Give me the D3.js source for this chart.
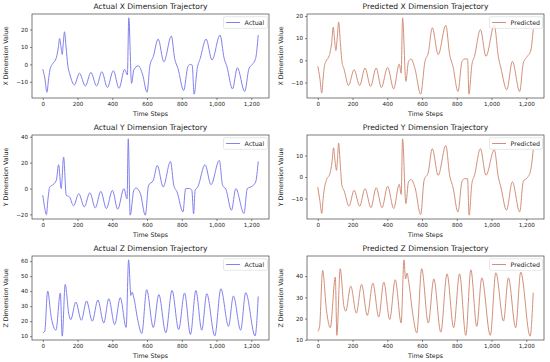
<!DOCTYPE html>
<html>
<head>
<meta charset="utf-8">
<script src="https://cdn.jsdelivr.net/npm/d3@7"></script>
<style>
  body { margin:0; background:#fff; }
  svg { display:block; font-family:"DejaVu Sans", sans-serif; }
  .tick text { fill:#222; }
</style>
</head>
<body>
<div id="chart"></div>
<script>
//--------------------------------- Dados  [passo, valor]
var xTicks = [0, 200, 400, 600, 800, 1000, 1200];

var actualX = [[0,-2.8],[12,-8],[24,-16],[34,-8],[43,-2.3],[59,0.6],[78,3.8],[90,10],[97,14.9],[105,10],[112,5.7],
  [118,12],[125,18.7],[134,10],[144,-0.4],[157,-6.1],[182,-11.8],[211,-5.1],[245,-12.4],[277,-4.6],[310,-12.4],
  [340,-4.2],[372,-13.3],[406,-3.6],[439,-13.7],[471,-2.9],[487,-6],[495,26.7],[511,-10.9],[524,-3.2],[549,-0.8],
  [575,-6],[600,-16],[617,-0.4],[636,4.4],[664,14.5],[697,1.5],[740,16.2],[759,3.4],[778,-2.3],[811,-15],
  [835,-1.3],[849,0],[860,-0.4],[871,-17.1],[889,-2.3],[906,3.4],[940,14.5],[974,2.5],[1020,16.8],[1044,3.4],
  [1060,-1.3],[1092,-14.1],[1120,-1.9],[1162,-15.6],[1187,-2.3],[1206,0],[1225,3.4],[1240,16.8]];

var actualY = [[0,-5.2],[10,-14],[21,-20.1],[30,-8],[40,1.2],[59,3],[78,6.3],[91,18.4],[106,-0.1],[120,24.3],
  [135,-5.2],[154,-6.5],[177,-13.4],[207,-4],[239,-14.2],[271,-3.2],[302,-15],[334,-2.2],[366,-15.5],[401,-1.4],
  [431,-16],[467,-0.1],[485,-8],[492,38.4],[503,-20.6],[524,-1.4],[537,0.4],[562,-4],[590,-20.6],[609,2.5],
  [636,6.3],[659,17.8],[693,1.2],[735,20.9],[754,2.5],[773,-2.7],[807,-18.1],[822,-0.1],[845,0],[858,-1.4],
  [868,-19.6],[877,-1.4],[892,1.2],[934,18.4],[968,3],[1016,21.7],[1035,2.5],[1054,-0.6],[1086,-16.8],
  [1111,-0.1],[1158,-19.3],[1177,-0.1],[1206,1.9],[1225,5],[1240,20.9]];

var actualZ = [[0,12.4],[11,13.1],[28,40.1],[49,22.4],[76,14],[101,38.8],[112,10],[129,44.5],[150,24.6],[161,21],
  [190,32.8],[222,20.6],[252,33.5],[285,20],[317,34.1],[351,18.8],[380,35],[414,17.7],[446,35.7],[480,15.8],
  [494,60.9],[507,37.2],[514,39.4],[524,35.7],[547,20.6],[570,11.8],[598,41],[636,15.8],[668,37.7],[708,12.2],
  [744,40.5],[782,14.4],[816,38.8],[850,11.1],[881,40.5],[915,14],[944,38.3],[990,10.2],[1025,41.6],[1069,16.6],
  [1097,36.8],[1139,14],[1168,39],[1222,10.2],[1240,36.5]];

var predX = [[0,-2.7],[12,-8],[23,-14.8],[31,-8],[38,-2.7],[47,-0.5],[66,2.1],[80,8],[89,15],[97,9],[104,4.4],
  [112,10],[120,17.3],[130,8],[139,-0.5],[152,-4.2],[177,-11.4],[209,-4.2],[241,-11.4],[272,-3.5],[304,-11.8],
  [336,-3.5],[366,-12.3],[402,-3.2],[437,-12.9],[469,-1.7],[480,-5.8],[488,19.2],[507,-9.5],[522,-0.5],
  [537,0.6],[560,-4],[592,-15.3],[617,-0.5],[636,3.3],[659,14.7],[693,2.6],[737,15.8],[759,2.6],[778,-2.7],
  [807,-14.1],[830,-0.5],[845,0.6],[862,0.6],[870,-15.3],[887,-2],[902,1.8],[936,13.9],[968,1.8],[1016,15.8],
  [1039,1.8],[1054,-3.5],[1088,-13.3],[1120,-0.5],[1162,-14.1],[1183,-1.2],[1206,1.8],[1225,4.1],[1240,14]];

var predY = [[0,-4.7],[12,-11],[23,-17],[31,-10],[38,-5.4],[51,-1.2],[70,1.6],[82,7],[91,13.6],[100,7],[108,3.1],
  [114,9],[120,15.8],[130,5],[139,-3.9],[152,-6.5],[180,-13.6],[209,-6.2],[241,-13.6],[272,-5.4],[306,-14.3],
  [336,-5],[370,-14.3],[402,-4.3],[437,-14.7],[469,-3.4],[480,-8.1],[488,17.8],[507,-12.4],[522,-2.3],
  [537,-1.2],[560,-5],[592,-17.5],[612,-1.5],[636,2.3],[659,13.2],[693,0.8],[737,14.7],[759,0.8],[778,-4.7],
  [807,-16.3],[830,-2],[845,-0.8],[862,-0.8],[871,-17.8],[887,-3],[902,0.8],[936,13.2],[968,0.8],[1016,12.7],
  [1039,0],[1054,-4.7],[1086,-15.5],[1120,-2.3],[1162,-16.3],[1183,-2],[1206,-0.3],[1225,3],[1240,12.7]];

var predZ = [[0,14],[10,16],[28,42.7],[50,24],[72,15.7],[101,39.5],[110,12.1],[129,43.5],[150,26],[161,23.5],
  [190,35.3],[222,22.6],[252,36.1],[285,21.5],[317,36.7],[351,20.7],[380,37.2],[414,19.6],[446,38.3],[480,17.9],
  [496,47.7],[505,38.7],[514,41.4],[524,37],[547,22],[570,13.2],[598,43.5],[636,17.9],[668,38.7],[708,13.6],
  [744,41.1],[782,15.7],[816,41.1],[852,12.1],[881,43],[915,16.3],[944,39.2],[993,12.1],[1025,41.6],[1069,18.8],
  [1097,39.2],[1139,15.7],[1168,41.9],[1222,11.7],[1240,32.2]];

var yTicksActualX = [-10, 0, 10, 20],
    yTicksPredX   = [-10, 0, 10, 20],
    yTicksActualY = [-20, 0, 20, 40],
    yTicksPredY   = [-10, 0, 10],
    yTicksActualZ = [10, 20, 30, 40, 50, 60],
    yTicksPredZ   = [10, 20, 30, 40];

//--------------------------------- Layout
var W = 550, H = 362,
    colX = [32, 307],       // borda esquerda dos eixos
    rowY = [14, 135, 256],  // topo dos eixos
    axW = 237, axH = 84,
    colorActual = "#8280ee",
    colorPred = "#d2907a";

var panels = [
  {col:0, row:0, data:actualX, ticks:yTicksActualX, title:"Actual X Dimension Trajectory",    ylab:"X Dimension Value", name:"Actual",    color:colorActual},
  {col:1, row:0, data:predX,   ticks:yTicksPredX,   title:"Predicted X Dimension Trajectory", ylab:"X Dimension Value", name:"Predicted", color:colorPred},
  {col:0, row:1, data:actualY, ticks:yTicksActualY, title:"Actual Y Dimension Trajectory",    ylab:"Y Dimension Value", name:"Actual",    color:colorActual},
  {col:1, row:1, data:predY,   ticks:yTicksPredY,   title:"Predicted Y Dimension Trajectory", ylab:"Y Dimension Value", name:"Predicted", color:colorPred},
  {col:0, row:2, data:actualZ, ticks:yTicksActualZ, title:"Actual Z Dimension Trajectory",    ylab:"Z Dimension Value", name:"Actual",    color:colorActual},
  {col:1, row:2, data:predZ,   ticks:yTicksPredZ,   title:"Predicted Z Dimension Trajectory", ylab:"Z Dimension Value", name:"Predicted", color:colorPred}
];

var svg = d3.select("#chart").append("svg").attr("width", W).attr("height", H);

//--------------------------------- margem de 5% estilo matplotlib
function padded(ext) {
  var m = (ext[1] - ext[0]) * 0.05;
  return [ext[0] - m, ext[1] + m];
}

function drawPanel(p) {
  var x0 = colX[p.col], y0 = rowY[p.row];
  var g = svg.append("g").attr("transform", "translate(" + x0 + "," + y0 + ")");

  var xs = d3.scaleLinear().domain(padded([0, d3.max(p.data, function (d) { return d[0]; })])).range([0, axW]);
  var ys = d3.scaleLinear().domain(padded(d3.extent(p.data, function (d) { return d[1]; }))).range([axH, 0]);

  g.append("clipPath").attr("id", "clip" + p.col + p.row)
    .append("rect").attr("width", axW).attr("height", axH);

  var line = d3.line()
    .x(function (d) { return xs(d[0]); })
    .y(function (d) { return ys(d[1]); })
    .curve(d3.curveMonotoneX);

  g.append("path").datum(p.data)
    .attr("clip-path", "url(#clip" + p.col + p.row + ")")
    .attr("fill", "none").attr("stroke", p.color).attr("stroke-width", 1)
    .attr("d", line);

  var ax = g.append("g").attr("transform", "translate(0," + axH + ")")
    .call(d3.axisBottom(xs).tickValues(xTicks).tickSize(2).tickPadding(2).tickSizeOuter(0));
  var ay = g.append("g")
    .call(d3.axisLeft(ys).tickValues(p.ticks).tickSize(2).tickPadding(2).tickSizeOuter(0));
  [ax, ay].forEach(function (a) {
    a.select(".domain").remove();
    a.selectAll("line").attr("stroke", "#333").attr("stroke-width", 0.6);
    a.selectAll("text").attr("font-size", 5.6).attr("font-family", "DejaVu Sans");
  });

  g.append("rect").attr("width", axW).attr("height", axH)
    .attr("fill", "none").attr("stroke", "#444").attr("stroke-width", 0.7);

  g.append("text").attr("x", axW / 2).attr("y", -5.5).attr("text-anchor", "middle")
    .attr("font-size", 7.6).attr("fill", "#222").text(p.title);
  g.append("text").attr("x", axW / 2).attr("y", axH + 17.5).attr("text-anchor", "middle")
    .attr("font-size", 6.3).attr("fill", "#222").text("Time Steps");
  g.append("text").attr("transform", "translate(" + (-24) + "," + (axH / 2) + ") rotate(-90)")
    .attr("text-anchor", "middle").attr("font-size", 6.3).attr("fill", "#222").text(p.ylab);

  //----------------------- legenda
  var lw = p.name === "Actual" ? 44 : 53;
  var lg = g.append("g").attr("transform", "translate(" + (axW - lw - 1.5) + ",2.7)");
  lg.append("rect").attr("width", lw).attr("height", 11.6).attr("rx", 1.5)
    .attr("fill", "#fff").attr("fill-opacity", 0.8).attr("stroke", "#d6d6d6").attr("stroke-width", 0.6);
  lg.append("line").attr("x1", 2.6).attr("x2", 16.5).attr("y1", 5.8).attr("y2", 5.8)
    .attr("stroke", p.color).attr("stroke-width", 1);
  lg.append("text").attr("x", 21).attr("y", 8).attr("font-size", 6.3).attr("fill", "#222").text(p.name);
}

panels.forEach(drawPanel);
</script>
</body>
</html>
